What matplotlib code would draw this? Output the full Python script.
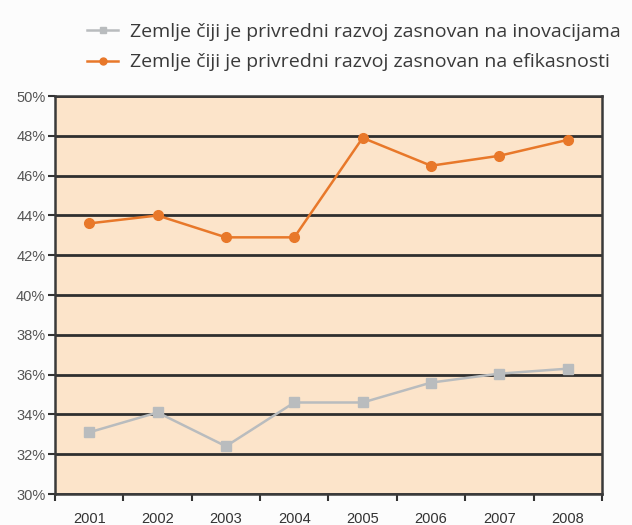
import matplotlib
matplotlib.use("Agg")
import matplotlib.pyplot as plt
from matplotlib.lines import Line2D
import numpy as np

years = ["2001", "2002", "2003", "2004", "2005", "2006", "2007", "2008"]
innovation = [33.1, 34.1, 32.4, 34.6, 34.6, 35.6, 36.05, 36.3]
efficiency = [43.6, 44.0, 42.9, 42.9, 47.9, 46.5, 47.0, 47.8]
label_innov = "Zemlje čiji je privredni razvoj zasnovan na inovacijama"
label_eff = "Zemlje čiji je privredni razvoj zasnovan na efikasnosti"
yticks = [30, 32, 34, 36, 38, 40, 42, 44, 46, 48, 50]

gray = "#b9bcbe"
orange = "#e8782a"

fig = plt.figure(figsize=(6.32, 5.25), dpi=100)
fig.patch.set_facecolor("#fcfcfc")
ax = fig.add_axes([0.087, 0.059, 0.8655, 0.758])
ax.set_facecolor("#fce4ca")

x = np.arange(len(years))
ax.plot(x, innovation, color=gray, lw=1.8, marker="s", ms=7, zorder=3)
ax.plot(x, efficiency, color=orange, lw=1.8, marker="o", ms=7, zorder=3)

ax.set_xlim(-0.5, len(years) - 0.5)
ax.set_ylim(30, 50)
ax.set_yticks(yticks)
ax.set_yticklabels([f"{v}%" for v in yticks], fontsize=10.5, color="#555555",
                   family="Liberation Sans")
ax.set_xticks(x)
ax.set_xticklabels(years, fontsize=10.5, color="#333333", family="Liberation Sans")
ax.set_xticks(np.arange(-0.5, len(years)), minor=True)
ax.tick_params(axis="x", which="major", length=0, pad=13)
ax.tick_params(axis="x", which="minor", length=5, width=1.5, color="#333333")
ax.tick_params(axis="y", length=5, width=1.5, color="#333333", pad=2)

for v in yticks:
    ax.axhline(v, color="#2f2f2f", lw=2.0, zorder=2)
for s in ax.spines.values():
    s.set_color("#3a3a3a")
    s.set_linewidth(1.8)

handles = [
    Line2D([0], [0], color=gray, lw=1.8, marker="s", ms=5),
    Line2D([0], [0], color=orange, lw=1.8, marker="o", ms=5),
]
fig.legend(handles, [label_innov, label_eff], loc="upper left",
           bbox_to_anchor=(0.11, 0.99), frameon=False,
           prop={"family": "Open Sans", "size": 14}, labelcolor="#3a3a3a",
           handlelength=1.6, handletextpad=0.6, labelspacing=0.65)

fig.savefig("out.png", dpi=100, facecolor=fig.get_facecolor())
